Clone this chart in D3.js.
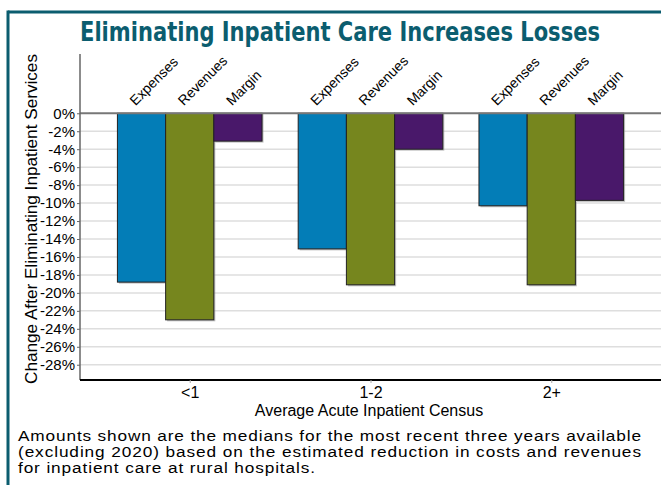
<!DOCTYPE html>
<html>
<head>
<meta charset="utf-8">
<script src="https://cdn.jsdelivr.net/npm/d3@7"></script>
<style>
  html, body { margin: 0; padding: 0; background: #fff; }
  svg { display: block; }
  text { font-family: "Liberation Sans", Arial, sans-serif; fill: #000; }
</style>
</head>
<body>
<svg id="chart" width="661" height="485"></svg>
<script>
// Census groups and the three measures shown for each
const censusGroups = ["<1", "1-2", "2+"];
const measures = ["Expenses", "Revenues", "Margin"];

// Median % change after eliminating inpatient services, per group
const expenses = [-18.8, -15.1, -10.3];
const revenues = [-23.0, -19.1, -19.1];
const margin   = [-3.1, -4.0, -9.7];

const yTicks = [0, -2, -4, -6, -8, -10, -12, -14, -16, -18, -20, -22, -24, -26, -28];
const measureColors = ["#037db7", "#76861e", "#49186a"];

const footnoteLines = [
  "Amounts shown are the medians for the most recent three years available",
  "(excluding 2020) based on the estimated reduction in costs and revenues",
  "for inpatient care at rural hospitals."
];

const seriesValues = [expenses, revenues, margin];
const rows = [];
censusGroups.forEach((g, gi) => {
  measures.forEach((m, mi) => rows.push({ group: g, measure: m, value: seriesValues[mi][gi] }));
});

const svg = d3.select("#chart");
const W = 661, H = 485;
const plotLeft = 80, plotRight = 661, plotTop = 54, plotBottom = 380;

// Frame lines (top and left edge)
svg.append("line").attr("x1", 8).attr("x2", W).attr("y1", 12).attr("y2", 12)
  .attr("stroke", "#0b5d6f").attr("stroke-width", 3);
svg.append("line").attr("x1", 8).attr("x2", 8).attr("y1", 10.5).attr("y2", H)
  .attr("stroke", "#0b5d6f").attr("stroke-width", 3);

// Title
svg.append("text")
  .attr("x", 340).attr("y", 41)
  .attr("text-anchor", "middle")
  .attr("textLength", 520).attr("lengthAdjust", "spacingAndGlyphs")
  .style("font-family", "'Liberation Sans Narrow', 'DejaVu Sans Condensed', sans-serif")
  .style("font-weight", "bold").style("font-size", "26px")
  .style("fill", "#0b5d6f")
  .text("Eliminating Inpatient Care Increases Losses");

// Scales
const y = d3.scaleLinear().domain([-29.7, 6.6]).range([plotBottom, plotTop]);
const x = d3.scalePoint().domain(censusGroups).range([plotLeft, plotRight]).padding(0.607);
const groupWidth = x.step() * 0.8;
const xInner = d3.scaleBand().domain(measures).range([-groupWidth / 2, groupWidth / 2]).padding(0);
const color = d3.scaleOrdinal().domain(measures).range(measureColors);

// Gridlines
svg.append("g").selectAll("line")
  .data(yTicks.filter(t => t !== 0))
  .join("line")
  .attr("x1", plotLeft).attr("x2", plotRight)
  .attr("y1", d => y(d)).attr("y2", d => y(d))
  .attr("stroke", "#dedede").attr("stroke-width", 1.5);

// Bars (with a soft shadow edge)
const bars = svg.append("g");
bars.selectAll("rect.shadow")
  .data(rows)
  .join("rect")
  .attr("class", "shadow")
  .attr("x", d => x(d.group) + xInner(d.measure) + 1.5)
  .attr("y", y(0))
  .attr("width", xInner.bandwidth())
  .attr("height", d => y(d.value) - y(0) + 1.5)
  .attr("fill", "#9a9a9a").attr("opacity", 0.6);
bars.selectAll("rect.bar")
  .data(rows)
  .join("rect")
  .attr("class", "bar")
  .attr("x", d => x(d.group) + xInner(d.measure))
  .attr("y", y(0))
  .attr("width", xInner.bandwidth())
  .attr("height", d => y(d.value) - y(0))
  .attr("fill", d => color(d.measure))
  .attr("stroke", "#222").attr("stroke-width", 1);

// Zero line
svg.append("line")
  .attr("x1", plotLeft).attr("x2", plotRight)
  .attr("y1", y(0)).attr("y2", y(0))
  .attr("stroke", "#777").attr("stroke-width", 2);

// Rotated measure labels above each bar
svg.append("g").selectAll("text")
  .data(rows)
  .join("text")
  .attr("transform", d => {
    const cx = x(d.group) + xInner(d.measure) + xInner.bandwidth() / 2 - 6;
    return `translate(${cx},${y(0) - 7}) rotate(-45)`;
  })
  .style("font-size", "14px")
  .text(d => d.measure);

// Y axis
const yAxis = svg.append("g")
  .attr("transform", `translate(${plotLeft},0)`)
  .call(d3.axisLeft(y).tickValues(yTicks).tickSize(3).tickPadding(2).tickFormat(d => d + "%"));
yAxis.select(".domain").attr("d", `M0,${plotTop}V${plotBottom}`).attr("stroke", "#666").attr("stroke-width", 1.5);
yAxis.selectAll(".tick line").attr("stroke", "#666");
yAxis.selectAll(".tick text").style("font-size", "15px").style("font-family", "'Liberation Sans', Arial, sans-serif").attr("fill", "#000");

// X axis
const xAxis = svg.append("g")
  .attr("transform", `translate(0,${plotBottom})`)
  .call(d3.axisBottom(x).tickSize(3).tickPadding(4));
xAxis.select(".domain").attr("d", `M${plotLeft},0H${plotRight}`).attr("stroke", "#000").attr("stroke-width", 2);
xAxis.selectAll(".tick line").attr("stroke", "#aaa");
xAxis.selectAll(".tick text").style("font-size", "16px").style("font-family", "'Liberation Sans', Arial, sans-serif").attr("fill", "#000");

// Axis titles
svg.append("text")
  .attr("x", 369).attr("y", 416)
  .attr("text-anchor", "middle")
  .style("font-size", "16px")
  .text("Average Acute Inpatient Census");

svg.append("text")
  .attr("transform", `translate(37,${(plotTop + plotBottom) / 2 + 2}) rotate(-90)`)
  .attr("text-anchor", "middle")
  .attr("textLength", 330).attr("lengthAdjust", "spacingAndGlyphs")
  .style("font-size", "17px")
  .text("Change After Eliminating Inpatient Services");

// Footnote: slightly widened type; first two lines justified to the full width
const noteScale = 1.15;
const noteWidths = [623, 623, 297];
svg.append("g")
  .attr("transform", `translate(18,0) scale(${noteScale},1)`)
  .selectAll("text")
  .data(footnoteLines)
  .join("text")
  .attr("x", 0)
  .attr("y", (d, i) => 441 + i * 16)
  .attr("textLength", (d, i) => noteWidths[i] / noteScale)
  .attr("lengthAdjust", "spacing")
  .style("font-size", "15px")
  .text(d => d);
</script>
</body>
</html>
